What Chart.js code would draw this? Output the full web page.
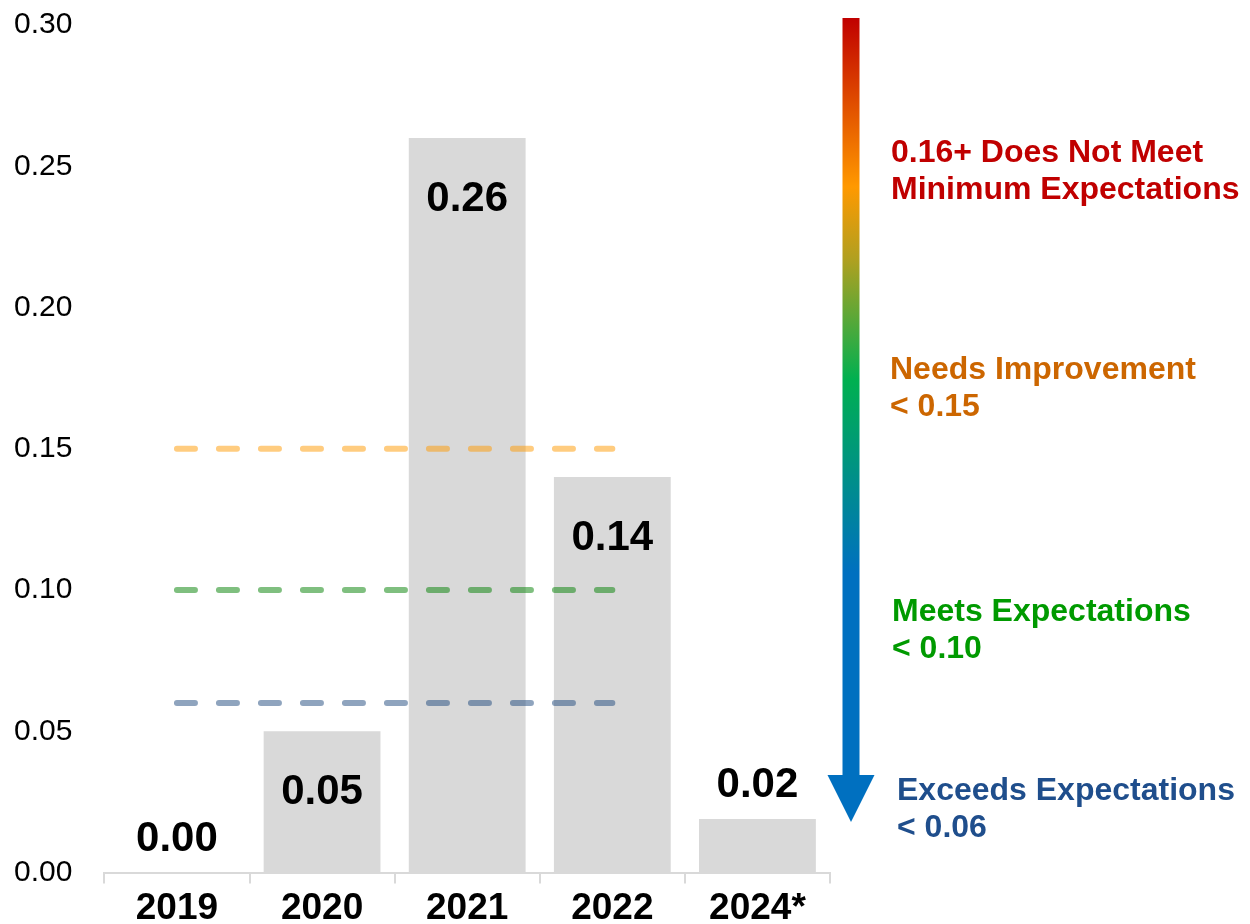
<!DOCTYPE html>
<html>
<head>
<meta charset="utf-8">
<script src="https://cdn.jsdelivr.net/npm/chart.js@4"></script>
<style>
  html, body { margin: 0; padding: 0; background: #fff; }
  #wrap { width: 1250px; height: 924px; position: relative; }
</style>
</head>
<body>
<div id="wrap"><canvas id="scoreChart"></canvas></div>
<script>
// ---- data ----
const years = ['2019', '2020', '2021', '2022', '2024*'];
const scores = [0.00, 0.05, 0.26, 0.14, 0.019];

// threshold lines run from 2019 to 2022 only
const needsImprovementLine = [0.15, 0.15, 0.15, 0.15, null];
const meetsLine = [0.10, 0.10, 0.10, 0.10, null];
const exceedsLine = [0.06, 0.06, 0.06, 0.06, null];

const yTicks = [0, 0.05, 0.10, 0.15, 0.20, 0.25, 0.30];

const legendLines = [
  ['0.16+ Does Not Meet', 'Minimum Expectations'],
  ['Needs Improvement', '< 0.15'],
  ['Meets Expectations', '< 0.10'],
  ['Exceeds Expectations', '< 0.06']
];
const legendColors = ['#c00000', '#cc6600', '#009a00', '#1f4e8c'];

const FONT = "'Liberation Sans', Arial, sans-serif";

// value labels: inside the bar when tall enough, otherwise above it
const valueLabels = {
  id: 'valueLabels',
  afterDatasetsDraw(chart) {
    const { ctx } = chart;
    const meta = chart.getDatasetMeta(0);
    ctx.save();
    ctx.font = 'bold 42px ' + FONT;
    ctx.fillStyle = '#000';
    ctx.textAlign = 'center';
    ctx.textBaseline = 'middle';
    meta.data.forEach((bar, i) => {
      const h = bar.base - bar.y;
      const y = h > 100 ? bar.y + 60 : bar.y - 34;
      ctx.fillText(scores[i].toFixed(2), bar.x, y + 1);
    });
    ctx.restore();
  }
};

// gradient arrow + rating bands on the right
const ratingArrow = {
  id: 'ratingArrow',
  afterDraw(chart) {
    const { ctx, chartArea } = chart;
    const cx = chartArea.right + 21;
    const top = chartArea.top - 7;
    const tip = 822;
    const headBase = 775;

    const grad = ctx.createLinearGradient(0, top, 0, tip);
    grad.addColorStop(0, '#c00000');
    grad.addColorStop(0.21, '#ff9900');
    grad.addColorStop(0.3, '#b0a020');
    grad.addColorStop(0.45, '#00b050');
    grad.addColorStop(0.69, '#0070c0');
    grad.addColorStop(1, '#0070c0');

    ctx.save();
    ctx.fillStyle = grad;
    ctx.beginPath();
    ctx.moveTo(cx - 8.5, top);
    ctx.lineTo(cx + 8.5, top);
    ctx.lineTo(cx + 8.5, headBase);
    ctx.lineTo(cx + 23.5, headBase);
    ctx.lineTo(cx, tip);
    ctx.lineTo(cx - 23.5, headBase);
    ctx.lineTo(cx - 8.5, headBase);
    ctx.closePath();
    ctx.fill();

    const spots = [[891, 153], [890, 370], [892, 612], [897, 791]];
    ctx.font = 'bold 32px ' + FONT;
    ctx.textAlign = 'left';
    ctx.textBaseline = 'middle';
    legendLines.forEach((lines, i) => {
      ctx.fillStyle = legendColors[i];
      lines.forEach((t, j) => {
        ctx.fillText(t, spots[i][0], spots[i][1] + j * 37);
      });
    });
    ctx.restore();
  }
};

function dashed(data, color) {
  return {
    type: 'line',
    data: data,
    borderColor: color,
    borderWidth: 6,
    borderDash: [18, 24],
    borderCapStyle: 'round',
    pointRadius: 0,
    fill: false,
    spanGaps: false,
    order: 0
  };
}

new Chart(document.getElementById('scoreChart'), {
  type: 'bar',
  data: {
    labels: years,
    datasets: [
      {
        data: scores,
        backgroundColor: '#d9d9d9',
        categoryPercentage: 1,
        barPercentage: 0.805,
        order: 1
      },
      dashed(needsImprovementLine, 'rgba(255, 153, 0, 0.5)'),
      dashed(meetsLine, 'rgba(0, 128, 0, 0.5)'),
      dashed(exceedsLine, 'rgba(31, 73, 125, 0.5)')
    ]
  },
  options: {
    responsive: true,
    maintainAspectRatio: false,
    animation: false,
    layout: { padding: { left: -18, right: 420, top: 25, bottom: -10 } },
    plugins: {
      legend: { display: false },
      tooltip: { enabled: false }
    },
    scales: {
      x: {
        grid: {
          drawOnChartArea: false,
          drawTicks: true,
          tickLength: 11,
          color: '#d9d9d9',
          lineWidth: 2
        },
        border: { display: true, color: '#d9d9d9', width: 2 },
        ticks: {
          color: '#000',
          padding: 3,
          font: { family: FONT, size: 37, weight: 'bold' }
        }
      },
      y: {
        min: 0,
        max: 0.3,
        afterBuildTicks: axis => { axis.ticks = yTicks.map(v => ({ value: v })); },
        // tick padding otherwise pushes the plot top down
        afterFit: axis => { axis.paddingTop = 0; axis.paddingBottom = 0; },
        grid: { display: false, drawTicks: false },
        border: { display: false },
        ticks: {
          color: '#000',
          padding: 32,
          font: { family: FONT, size: 30 },
          callback: v => v.toFixed(2)
        }
      }
    }
  },
  plugins: [valueLabels, ratingArrow]
});
</script>
</body>
</html>
